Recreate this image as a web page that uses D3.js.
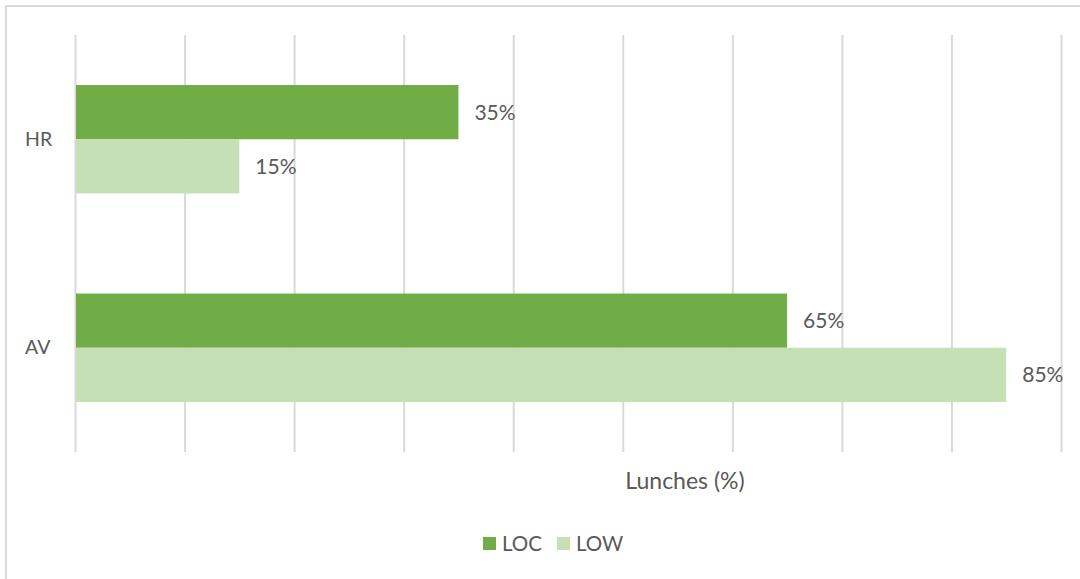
<!DOCTYPE html>
<html><head><meta charset="utf-8">
<script src="https://cdn.jsdelivr.net/npm/d3@7"></script>
<style>body{margin:0;background:#fff;} svg{display:block;} text{font-family:Lato,"Open Sans",sans-serif;fill:#595959;}</style>
</head><body>
<svg id="c" width="1080" height="579"></svg>
<script>
const categories = ["HR", "AV"];
const seriesNames = ["LOC", "LOW"];
const locValues = [35, 65];
const lowValues = [15, 85];
const xTicks = [0,10,20,30,40,50,60,70,80,90];
const colors = ["#70AD47", "#C5E0B4"];

const svg = d3.select("#c");
svg.append("rect").attr("x",6).attr("y",6).attr("width",1080).attr("height",580)
  .attr("fill","none").attr("stroke","#d9d9d9").attr("stroke-width",2);

const x = d3.scaleLinear().domain([0,90]).range([75,1061]);
const y = d3.scaleBand().domain(categories).range([35,452]).paddingInner(0.48).paddingOuter(0.24);
const ySub = d3.scaleBand().domain(seriesNames).range([0,y.bandwidth()]);

const gx = svg.append("g").attr("transform","translate(0,452)")
  .call(d3.axisBottom(x).tickValues(xTicks).tickSize(-417).tickFormat(""));
gx.select(".domain").remove();
gx.selectAll(".tick line").attr("stroke","#d9d9d9").attr("stroke-width",2);

const data = categories.map((c,i)=>({cat:c, vals:[{s:"LOC",v:locValues[i]},{s:"LOW",v:lowValues[i]}]}));
const g = svg.append("g");
data.forEach(d=>{
  d.vals.forEach((e,j)=>{
    g.append("rect").attr("x",x(0)+1).attr("y",y(d.cat)+ySub(e.s))
      .attr("width",x(e.v)-x(0)-1).attr("height",ySub.bandwidth()).attr("fill",colors[j]);
    g.append("text").attr("x",x(e.v)+16).attr("y",y(d.cat)+ySub(e.s)+ySub.bandwidth()/2)
      .attr("dy","0.36em").attr("font-size",21).text(e.v+"%");
  });
});

const gy = svg.append("g").attr("transform","translate(75,0)")
  .call(d3.axisLeft(y).tickSize(0).tickPadding(23));
gy.select(".domain").remove();
gy.selectAll(".tick text").attr("font-size",19.5).style("font-family","Lato,'Open Sans',sans-serif").attr("fill","#595959").attr("text-anchor","start").attr("x",-50);

svg.append("text").attr("x",685).attr("y",489).attr("text-anchor","middle").attr("font-size",23).text("Lunches (%)");

const leg = svg.append("g");
const legX = [483, 557];
seriesNames.forEach((s,i)=>{
  leg.append("rect").attr("x",legX[i]).attr("y",537).attr("width",13).attr("height",13).attr("fill",colors[i]);
  leg.append("text").attr("x",legX[i]+19).attr("y",544).attr("dy","0.36em").attr("font-size",20.5).text(s);
});
</script>
</body></html>
